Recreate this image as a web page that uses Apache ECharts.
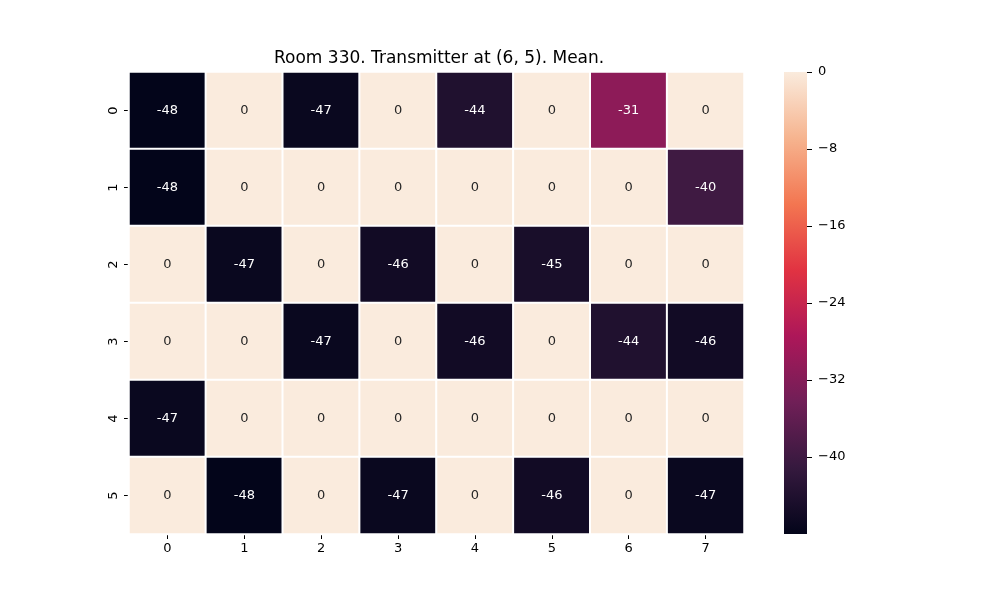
<!DOCTYPE html>
<html>
<head>
<meta charset="utf-8">
<script src="https://cdn.jsdelivr.net/npm/echarts@6/dist/echarts.min.js"></script>
<style>
html, body { margin: 0; padding: 0; background: #fff; }
#main { width: 1000px; height: 600px; }
</style>
</head>
<body>
<div id="main"></div>
<script>
// heatmap data
var xCats = ['0', '1', '2', '3', '4', '5', '6', '7'];
var yCats = ['0', '1', '2', '3', '4', '5'];
var row0 = [-48, 0, -47, 0, -44, 0, -31, 0];
var row1 = [-48, 0, 0, 0, 0, 0, 0, -40];
var row2 = [0, -47, 0, -46, 0, -45, 0, 0];
var row3 = [0, 0, -47, 0, -46, 0, -44, -46];
var row4 = [-47, 0, 0, 0, 0, 0, 0, 0];
var row5 = [0, -48, 0, -47, 0, -46, 0, -47];
var rows = [row0, row1, row2, row3, row4, row5];
var cbTicks = [0, -8, -16, -24, -32, -40];
var vMin = -48, vMax = 0;

var font = 'DejaVu Sans';
// rocket colormap, evenly spaced samples
var rocket = ['#03051A', '#35193E', '#701F57', '#AD1759', '#E13342', '#F37651', '#F6B48F', '#FAEBDD'];

var data = [];
rows.forEach(function(r, yi) {
	r.forEach(function(v, xi) {
		data.push({
			value: [xi, yi, v],
			label: { color: v < -20 ? '#ffffff' : '#262626' }
		});
	});
});

function minus(v) {
	return v < 0 ? '\u2212' + Math.abs(v) : String(v);
}

// colorbar gradient (bottom = min, top = max)
var cbStops = rocket.map(function(c, i) {
	return { offset: i / (rocket.length - 1), color: c };
});

var myChart = echarts.init(document.getElementById('main'));
var option = {
	backgroundColor: '#fff',
	animation: false,
	title: {
		text: 'Room 330. Transmitter at (6, 5). Mean.',
		left: 274,
		top: 50,
		padding: 0,
		textStyle: { fontFamily: font, fontSize: 17, fontWeight: 'normal', color: '#000' }
	},
	grid: [
		{ left: 129, top: 72, width: 615, height: 462 },
		{
			left: 784, top: 72, width: 23, height: 462,
			show: true,
			borderWidth: 0,
			backgroundColor: new echarts.graphic.LinearGradient(0, 1, 0, 0, cbStops)
		}
	],
	xAxis: [{
		type: 'category',
		gridIndex: 0,
		data: xCats,
		axisLine: { show: false },
		axisTick: { show: true, alignWithLabel: true, length: 5, lineStyle: { color: '#000' } },
		axisLabel: { fontFamily: font, fontSize: 13, color: '#000', margin: 8 },
		splitLine: { show: false }
	}, {
		type: 'value',
		gridIndex: 1,
		min: 0,
		max: 1,
		show: false
	}],
	yAxis: [{
		type: 'category',
		gridIndex: 0,
		data: yCats,
		inverse: true,
		axisLine: { show: false },
		axisTick: { show: true, alignWithLabel: true, length: 5, lineStyle: { color: '#000' } },
		axisLabel: { fontFamily: font, fontSize: 13, color: '#000', rotate: 90, margin: 9 },
		splitLine: { show: false }
	}, {
		type: 'value',
		gridIndex: 1,
		position: 'right',
		min: vMin,
		max: vMax,
		interval: 8,
		axisLine: { show: false, onZero: false },
		axisTick: { show: true, inside: false, length: 5, customValues: cbTicks, lineStyle: { color: '#000' } },
		axisLabel: {
			fontFamily: font, fontSize: 13, color: '#000', margin: 11,
			padding: [3, 0, 0, 0],
			customValues: cbTicks,
			formatter: minus
		},
		splitLine: { show: false }
	}],
	visualMap: {
		type: 'continuous',
		show: false,
		min: vMin,
		max: vMax,
		seriesIndex: 0,
		inRange: { color: rocket }
	},
	series: [{
		type: 'heatmap',
		xAxisIndex: 0,
		yAxisIndex: 0,
		data: data,
		label: {
			show: true,
			fontFamily: font,
			fontSize: 13,
			formatter: function(p) { return String(p.value[2]); }
		},
		itemStyle: { borderColor: '#fff', borderWidth: 2 },
		emphasis: { disabled: true }
	}]
};
myChart.setOption(option);
</script>
</body>
</html>
